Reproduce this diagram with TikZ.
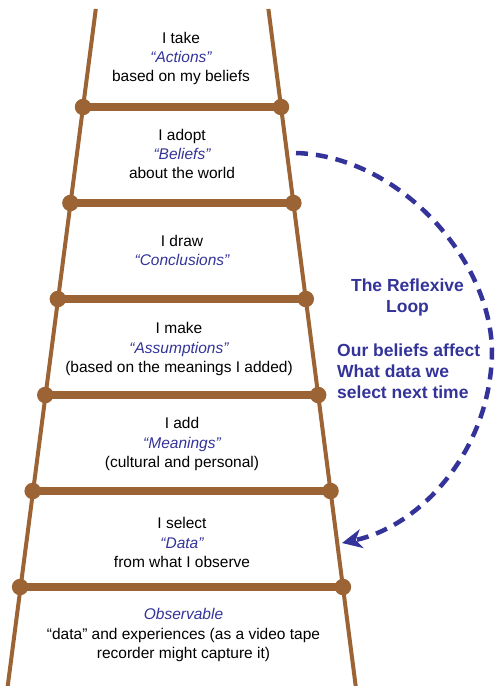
\documentclass[tikz,border=0pt]{standalone}
\usepackage{fontspec}
\setmainfont{Liberation Sans}
\usetikzlibrary{arrows.meta}
\definecolor{rail}{RGB}{156,100,52}
\definecolor{loopblue}{RGB}{51,51,153}
\newcommand{\kw}[1]{{\color{loopblue}\itshape #1}}
\begin{document}
\begin{tikzpicture}[x=1pt,y=-1pt,
  railline/.style={draw=rail, line width=4pt},
  rungline/.style={draw=rail, line width=7.5pt},
  joint/.style={circle, fill=rail, inner sep=0pt, minimum size=16.5pt},
  steptext/.style={align=center, inner sep=0pt, text=black,
                   font=\fontsize{15.5}{19.2}\selectfont},
  looptext/.style={inner sep=0pt, text=loopblue,
                   font=\fontsize{17.5}{21}\selectfont\bfseries},
  loopline/.style={draw=loopblue, line width=4.5pt, dash pattern=on 12pt off 8pt,
                   -{Stealth[length=20pt,width=19pt,inset=6pt]}}]
\useasboundingbox (0,0) rectangle (497,686);

% rail ends
\coordinate (ltop) at (95.8,9);
\coordinate (rtop) at (268.4,9);
\coordinate (lbot) at (7.2,690);
\coordinate (rbot) at (356.2,690);

% rung ends on both rails
\foreach \i/\y in {1/107,2/203,3/299,4/395,5/491,6/587}{
  \coordinate (l\i) at ({83-0.131*(\y-107)},\y);
  \coordinate (r\i) at ({281+0.129*(\y-107)},\y);
}

% rails
\draw[railline] (ltop) -- (lbot);
\draw[railline] (rtop) -- (rbot);

% rungs and joints
\foreach \i in {1,...,6}{
  \draw[rungline] (l\i) -- (r\i);
  \node[joint] (jl\i) at (l\i) {};
  \node[joint] (jr\i) at (r\i) {};
}

% steps of the ladder
\node[steptext] (actions) at (181,58.5)
  {I take\\\kw{“Actions”}\\based on my beliefs};
\node[steptext] (beliefs) at (182,154)
  {I adopt\\\kw{“Beliefs”}\\about the world};
\node[steptext] (conclusions) at (182,250.5)
  {I draw\\\kw{“Conclusions”}};
\node[steptext] (assumptions) at (179,349)
  {I make\\\kw{“Assumptions”}\\(based on the meanings I added)};
\node[steptext] (meanings) at (182,444)
  {I add\\\kw{“Meanings”}\\(cultural and personal)};
\node[steptext] (data) at (182,542.5)
  {I select\\\kw{“Data”}\\from what I observe};
\node[steptext] (observable) at (183.5,635)
  {\kw{Observable}\\“data” and experiences (as a video tape\\recorder might capture it)};

% the reflexive loop
\node[looptext, align=center] (looptitle) at (407.5,297.5) {The Reflexive\\Loop};
\node[looptext, align=left, anchor=west] (loopnote) at (337,371)
  {Our beliefs affect\\What data we\\select next time};

\coordinate (loopstart) at (296,153);
\coordinate (loopturn) at (492,350);
\coordinate (loopend) at (342,543);
\draw[loopline] (loopstart) .. controls (398,156) and (490,258) .. (loopturn)
  .. controls (492,445) and (425,525) .. (loopend);
\end{tikzpicture}
\end{document}
